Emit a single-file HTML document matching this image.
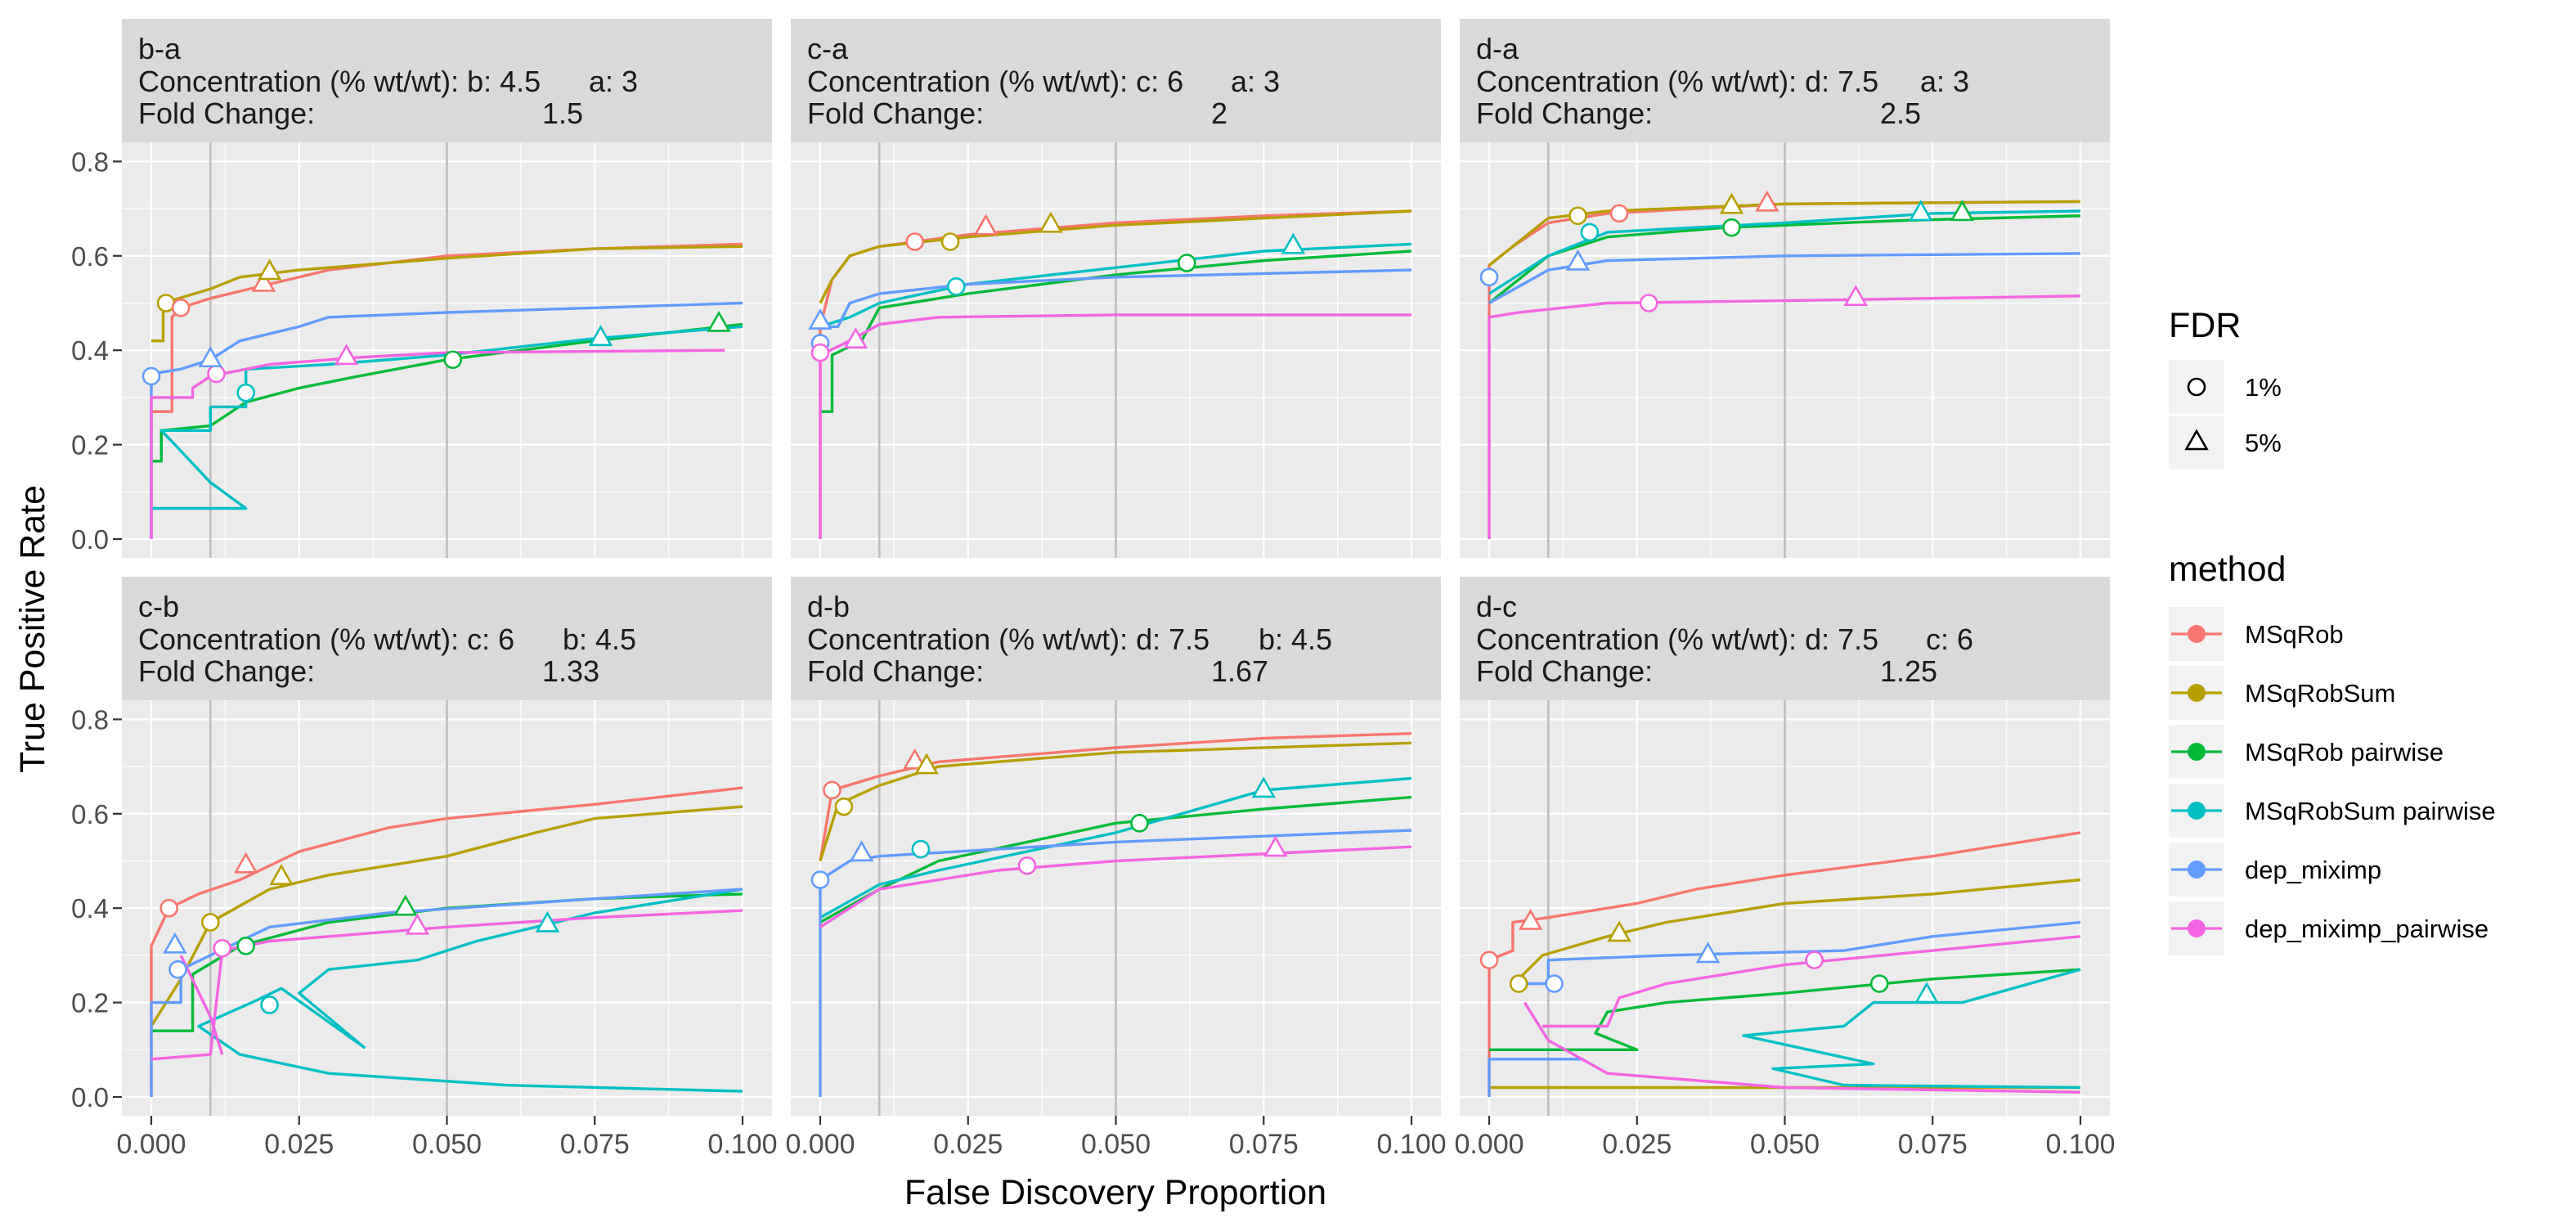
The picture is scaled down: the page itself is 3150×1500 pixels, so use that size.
<!DOCTYPE html>
<html><head><meta charset="utf-8"><style>
body{margin:0;background:#fff}
svg{display:block;font-family:"Liberation Sans",Arial,sans-serif}
</style></head><body>
<svg id="chart" width="3150" height="1500" viewBox="0 0 3150 1500" xmlns="http://www.w3.org/2000/svg">
<rect width="3150" height="1500" fill="#fff"/>
</svg>
<script>
const panelNames = ['b-a','c-a','d-a','c-b','d-b','d-c'];
const concA = ['b: 4.5','c: 6','d: 7.5','c: 6','d: 7.5','d: 7.5'];
const concB = ['a: 3','a: 3','a: 3','b: 4.5','b: 4.5','c: 6'];
const concBOffset = [571,538,563,539,572,570];
const foldChange = ['1.5','2','2.5','1.33','1.67','1.25'];
const xTicks = [0,0.025,0.05,0.075,0.1];
const xTickLabels = ['0.000','0.025','0.050','0.075','0.100'];
const yTicks = [0,0.2,0.4,0.6,0.8];
const yTickLabels = ['0.0','0.2','0.4','0.6','0.8'];
const methods = ['MSqRob','MSqRobSum','MSqRob pairwise','MSqRobSum pairwise','dep_miximp','dep_miximp_pairwise'];
const colors = ['#F8766D','#B79F00','#00BA38','#00BFC4','#619CFF','#F564E3'];

const msqrob = [
 [[0,0],[0,0.27],[0.0035,0.27],[0.0035,0.47],[0.005,0.49],[0.01,0.51],[0.02,0.54],[0.03,0.57],[0.05,0.6],[0.075,0.615],[0.1,0.625]],
 [[0,0],[0,0.45],[0.002,0.55],[0.005,0.6],[0.01,0.62],[0.025,0.645],[0.05,0.67],[0.075,0.685],[0.1,0.695]],
 [[0,0],[0,0.58],[0.004,0.62],[0.01,0.67],[0.02,0.69],[0.05,0.71],[0.1,0.715]],
 [[0,0],[0,0.32],[0.003,0.4],[0.008,0.43],[0.015,0.46],[0.025,0.52],[0.04,0.57],[0.05,0.59],[0.075,0.62],[0.1,0.655]],
 [[0,0.5],[0.002,0.65],[0.01,0.68],[0.02,0.71],[0.05,0.74],[0.075,0.76],[0.1,0.77]],
 [[0,0],[0,0.29],[0.004,0.31],[0.004,0.37],[0.01,0.38],[0.025,0.41],[0.035,0.44],[0.05,0.47],[0.075,0.51],[0.1,0.56]]
];
const msqrobsum = [
 [[0,0.42],[0.002,0.42],[0.002,0.5],[0.01,0.53],[0.015,0.555],[0.025,0.57],[0.05,0.595],[0.075,0.615],[0.1,0.62]],
 [[0,0.5],[0.002,0.55],[0.005,0.6],[0.01,0.62],[0.025,0.64],[0.05,0.665],[0.1,0.695]],
 [[0,0.58],[0.005,0.63],[0.01,0.68],[0.02,0.695],[0.05,0.71],[0.1,0.715]],
 [[0,0.15],[0.005,0.25],[0.01,0.37],[0.02,0.44],[0.03,0.47],[0.05,0.51],[0.065,0.56],[0.075,0.59],[0.1,0.615]],
 [[0,0.5],[0.003,0.62],[0.01,0.66],[0.02,0.7],[0.05,0.73],[0.1,0.75]],
 [[0.1,0.02],[0,0.02],null,[0.005,0.25],[0.009,0.3],[0.02,0.34],[0.03,0.37],[0.05,0.41],[0.075,0.43],[0.1,0.46]]
];
const msqrobPair = [
 [[0,0.165],[0.0017,0.165],[0.0017,0.23],[0.01,0.24],[0.016,0.29],[0.025,0.32],[0.035,0.345],[0.05,0.38],[0.075,0.42],[0.1,0.455]],
 [[0,0.27],[0.002,0.27],[0.002,0.39],[0.007,0.42],[0.01,0.49],[0.025,0.52],[0.05,0.56],[0.075,0.59],[0.1,0.61]],
 [[0,0.5],[0.01,0.6],[0.02,0.64],[0.04,0.66],[0.07,0.675],[0.1,0.685]],
 [[0,0.14],[0.007,0.14],[0.007,0.26],[0.015,0.32],[0.03,0.37],[0.05,0.4],[0.075,0.42],[0.1,0.43]],
 [[0,0.37],[0.01,0.44],[0.02,0.5],[0.05,0.58],[0.075,0.61],[0.1,0.635]],
 [[0,0.1],[0.025,0.1],[0.018,0.135],[0.02,0.18],[0.03,0.2],[0.05,0.22],[0.075,0.25],[0.1,0.27]]
];
const msqrobsumPair = [
 [[0,0.065],[0.016,0.065],[0.01,0.12],[0.004,0.2],[0.0017,0.23],[0.01,0.23],[0.01,0.28],[0.016,0.28],[0.016,0.36],[0.03,0.37],[0.05,0.39],[0.075,0.425],[0.1,0.45]],
 [[0,0.45],[0.005,0.47],[0.01,0.5],[0.025,0.54],[0.05,0.575],[0.075,0.61],[0.1,0.625]],
 [[0,0.52],[0.01,0.6],[0.02,0.65],[0.05,0.67],[0.075,0.69],[0.1,0.695]],
 [[0.1,0.012],[0.06,0.025],[0.03,0.05],[0.015,0.09],[0.008,0.15],[0.017,0.2],[0.022,0.23],[0.036,0.105],[0.025,0.22],[0.03,0.27],[0.045,0.29],[0.055,0.33],[0.065,0.36],[0.075,0.39],[0.1,0.44]],
 [[0,0.38],[0.01,0.45],[0.02,0.48],[0.05,0.56],[0.075,0.65],[0.1,0.675]],
 [[0.1,0.02],[0.06,0.025],[0.048,0.06],[0.065,0.07],[0.043,0.13],[0.06,0.15],[0.065,0.2],[0.08,0.2],[0.1,0.27]]
];
const depMiximp = [
 [[0,0],[0,0.35],[0.005,0.36],[0.01,0.38],[0.015,0.42],[0.025,0.45],[0.03,0.47],[0.05,0.48],[0.075,0.49],[0.1,0.5]],
 [[0,0.45],[0.003,0.45],[0.005,0.5],[0.01,0.52],[0.025,0.54],[0.05,0.555],[0.1,0.57]],
 [[0,0.5],[0.01,0.57],[0.02,0.59],[0.05,0.6],[0.1,0.605]],
 [[0,0],[0,0.2],[0.005,0.2],[0.005,0.27],[0.01,0.3],[0.02,0.36],[0.04,0.39],[0.075,0.42],[0.1,0.44]],
 [[0,0],[0,0.46],[0.005,0.5],[0.01,0.51],[0.05,0.54],[0.1,0.565]],
 [[0,0],[0,0.08],[0.016,0.08],null,[0.005,0.24],[0.01,0.24],[0.01,0.29],[0.03,0.3],[0.06,0.31],[0.075,0.34],[0.1,0.37]]
];
const depMiximpPair = [
 [[0,0],[0,0.3],[0.007,0.3],[0.007,0.32],[0.01,0.345],[0.02,0.37],[0.035,0.385],[0.05,0.395],[0.097,0.4]],
 [[0,0],[0,0.39],[0.005,0.42],[0.01,0.455],[0.02,0.47],[0.05,0.475],[0.1,0.475]],
 [[0,0],[0,0.47],[0.005,0.48],[0.02,0.5],[0.05,0.505],[0.1,0.515]],
 [[0,0.08],[0.01,0.09],[0.012,0.31],[0.02,0.33],[0.05,0.36],[0.075,0.38],[0.1,0.395],null,[0.005,0.3],[0.01,0.17],[0.012,0.09]],
 [[0,0.36],[0.01,0.44],[0.03,0.48],[0.05,0.5],[0.1,0.53]],
 [[0.006,0.2],[0.01,0.12],[0.02,0.05],[0.05,0.02],[0.1,0.01],null,[0.009,0.15],[0.02,0.15],[0.022,0.21],[0.03,0.24],[0.05,0.28],[0.075,0.31],[0.1,0.34]]
];
const seriesData = [msqrob,msqrobsum,msqrobPair,msqrobsumPair,depMiximp,depMiximpPair];

const fdr1Markers = [
 [[4,0,0.345],[1,0.0025,0.5],[0,0.005,0.49],[5,0.011,0.35],[3,0.016,0.31],[2,0.051,0.38]],
 [[4,0,0.415],[5,0,0.395],[0,0.016,0.63],[1,0.022,0.63],[3,0.023,0.535],[2,0.062,0.585]],
 [[4,0,0.555],[1,0.015,0.685],[0,0.022,0.69],[3,0.017,0.65],[2,0.041,0.66],[5,0.027,0.5]],
 [[0,0.003,0.4],[4,0.0045,0.27],[1,0.01,0.37],[5,0.012,0.315],[2,0.016,0.32],[3,0.02,0.195]],
 [[4,0,0.46],[0,0.002,0.65],[1,0.004,0.615],[3,0.017,0.525],[5,0.035,0.49],[2,0.054,0.58]],
 [[0,0,0.29],[1,0.005,0.24],[4,0.011,0.24],[5,0.055,0.29],[2,0.066,0.24]]
];
const fdr5Markers = [
 [[4,0.01,0.38],[0,0.019,0.54],[1,0.02,0.565],[5,0.033,0.385],[3,0.076,0.425],[2,0.096,0.455]],
 [[4,0,0.46],[5,0.006,0.42],[0,0.028,0.66],[1,0.039,0.665],[3,0.08,0.62]],
 [[4,0.015,0.585],[1,0.041,0.705],[0,0.047,0.71],[5,0.062,0.51],[3,0.073,0.69],[2,0.08,0.69]],
 [[4,0.004,0.32],[0,0.016,0.49],[1,0.022,0.465],[2,0.043,0.4],[5,0.045,0.36],[3,0.067,0.365]],
 [[4,0.007,0.515],[0,0.016,0.71],[1,0.018,0.7],[3,0.075,0.65],[5,0.077,0.525]],
 [[0,0.007,0.37],[1,0.022,0.345],[4,0.037,0.3],[3,0.074,0.215]]
];

const NS='http://www.w3.org/2000/svg';
const svg=document.getElementById('chart');
function mk(tag,attrs,parent){const e=document.createElementNS(NS,tag);for(const k in attrs)e.setAttribute(k,attrs[k]);(parent||svg).appendChild(e);return e;}

const colLeft=[149,967,1785], rowTop=[23,705], W=795, stripH=151, plotH=508;
for(let p=0;p<6;p++){
  const left=colLeft[p%3], top=rowTop[Math.floor(p/3)];
  const pTop=top+stripH, pBot=pTop+plotH;
  const sx=x=>left+36+x/0.1*723;
  const sy=y=>pTop+485-y*577;
  const g=mk('g',{});
  
  
  const strip=mk('rect',{x:left,y:top,width:W,height:stripH,fill:'#D9D9D9'},g);
  
  
  const tt={fill:'#1A1A1A','font-size':36};
  let t=mk('text',Object.assign({x:left+20,y:top+49},tt),g);t.textContent=panelNames[p];
  
  t=mk('text',Object.assign({x:left+20,y:top+89},tt),g);t.textContent='Concentration (% wt/wt): '+concA[p];
  
  t=mk('text',Object.assign({x:left+concBOffset[p],y:top+89},tt),g);t.textContent=concB[p];
  
  t=mk('text',Object.assign({x:left+20,y:top+128},tt),g);t.textContent='Fold Change:';
  
  t=mk('text',Object.assign({x:left+514,y:top+128},tt),g);t.textContent=foldChange[p];
  
  const bg=mk('rect',{x:left,y:pTop,width:W,height:plotH,fill:'#EBEBEB'},g);
  
  [0.0125,0.0375,0.0625,0.0875].forEach(v=>mk('line',{x1:sx(v),x2:sx(v),y1:pTop,y2:pBot,stroke:'#fff','stroke-width':1.2},g));
  [0.1,0.3,0.5,0.7].forEach(v=>mk('line',{x1:left,x2:left+W,y1:sy(v),y2:sy(v),stroke:'#fff','stroke-width':1.2},g));
  xTicks.forEach(v=>mk('line',{x1:sx(v),x2:sx(v),y1:pTop,y2:pBot,stroke:'#fff','stroke-width':2.4},g));
  yTicks.forEach(v=>mk('line',{x1:left,x2:left+W,y1:sy(v),y2:sy(v),stroke:'#fff','stroke-width':2.4},g));
  [0.01,0.05].forEach(v=>{const l=mk('line',{x1:sx(v),x2:sx(v),y1:pTop,y2:pBot,stroke:'#BEBEBE','stroke-width':2.6},g);
    });
  seriesData.forEach((s,si)=>{
    const pts=s[p];let d='',mv=true;
    pts.forEach(pt=>{if(!pt){mv=true;return;}d+=(mv?'M':'L')+sx(pt[0]).toFixed(1)+','+sy(pt[1]).toFixed(1);mv=false;});
    const path=mk('path',{d:d,fill:'none',stroke:colors[si],'stroke-width':3.4,'stroke-linejoin':'round'},g);
    
    
  });
  fdr1Markers[p].forEach(m=>{
    const c=mk('circle',{cx:sx(m[1]),cy:sy(m[2]),r:10,fill:'#fff',stroke:colors[m[0]],'stroke-width':2.6},g);
    
  });
  fdr5Markers[p].forEach(m=>{
    const x=sx(m[1]),y=sy(m[2]);
    const tr=mk('polygon',{points:`${x},${y-14} ${x-12.5},${y+8} ${x+12.5},${y+8}`,fill:'#fff',stroke:colors[m[0]],'stroke-width':2.6},g);
    
  });
  if(p>=3){
    xTicks.forEach((v,i)=>{
      mk('line',{x1:sx(v),x2:sx(v),y1:pBot,y2:pBot+11,stroke:'#333','stroke-width':2.2},g);
      const tl=mk('text',{x:sx(v),y:pBot+46,'font-size':34,fill:'#4D4D4D','text-anchor':'middle'},g);
      tl.textContent=xTickLabels[i];
      
    });
  }
  if(p%3===0){
    yTicks.forEach((v,i)=>{
      mk('line',{x1:left-11,x2:left,y1:sy(v),y2:sy(v),stroke:'#333','stroke-width':2.2},g);
      const tl=mk('text',{x:left-16,y:sy(v)+12,'font-size':33,fill:'#4D4D4D','text-anchor':'end'},g);
      tl.textContent=yTickLabels[i];
      
    });
  }
}
let at=mk('text',{x:1364,y:1472,'font-size':43,fill:'#000','text-anchor':'middle'});
at.textContent='False Discovery Proportion';

at=mk('text',{x:0,y:0,'font-size':43,fill:'#000','text-anchor':'middle',transform:'translate(54,769) rotate(-90)'});
at.textContent='True Positive Rate';


let lt=mk('text',{x:2652,y:412,'font-size':43,fill:'#000'});lt.textContent='FDR';

const fdrLabels=['1%','5%'];
fdrLabels.forEach((lab,i)=>{
  const cy=473+i*68;
  const g=mk('g',{});
  
  mk('rect',{x:2652,y:cy-33,width:68,height:66,fill:'#F2F2F2'},g);
  if(i===0) mk('circle',{cx:2686,cy:cy,r:10,fill:'#fff',stroke:'#000','stroke-width':2.6},g);
  else mk('polygon',{points:`2686,${cy-14} 2673.5,${cy+8} 2698.5,${cy+8}`,fill:'#fff',stroke:'#000','stroke-width':2.6},g);
  const t=mk('text',{x:2745,y:cy+11,'font-size':31,fill:'#000'},g);t.textContent=lab;
});
lt=mk('text',{x:2652,y:710,'font-size':43,fill:'#000'});lt.textContent='method';

methods.forEach((m,i)=>{
  const cy=775+i*72;
  const g=mk('g',{});
  
  mk('rect',{x:2652,y:cy-33,width:68,height:66,fill:'#F2F2F2'},g);
  mk('line',{x1:2655,x2:2717,y1:cy,y2:cy,stroke:colors[i],'stroke-width':3.2},g);
  mk('circle',{cx:2686,cy:cy,r:11,fill:colors[i]},g);
  const t=mk('text',{x:2745,y:cy+11,'font-size':31,fill:'#000'},g);t.textContent=m;
});
</script>
</body></html>
